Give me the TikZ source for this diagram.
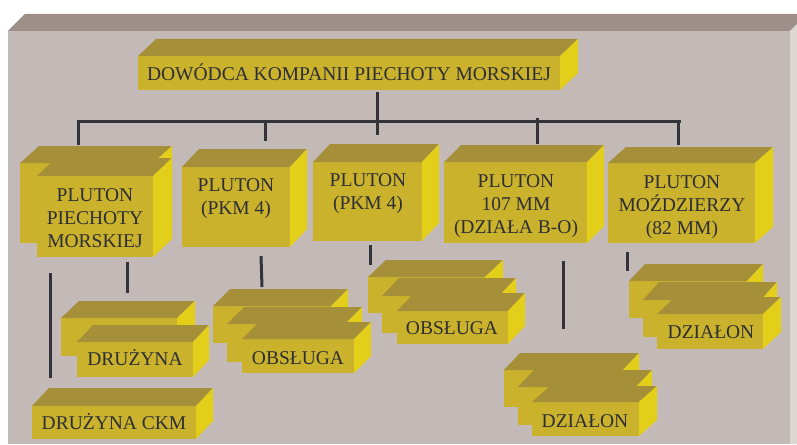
\documentclass[tikz,border=0pt]{standalone}
\usepackage{fontspec}
\setmainfont{Liberation Serif}
\definecolor{slabfront}{RGB}{195,186,184}
\definecolor{slabtop}{RGB}{158,143,139}
\definecolor{slabside}{RGB}{220,214,211}
\definecolor{boxfront}{RGB}{202,178,44}
\definecolor{boxtop}{RGB}{165,143,56}
\definecolor{boxside}{RGB}{227,207,26}
\definecolor{linec}{RGB}{51,51,57}
\definecolor{textc}{RGB}{46,46,53}
\tikzset{
  face/.style={fill=boxfront, draw=none, inner sep=0pt, outer sep=0pt, anchor=north west},
  topc/.style={fill=boxtop},
  sidec/.style={fill=boxside},
  lbl/.style={text=textc, inner sep=0pt, outer sep=0pt, align=center, font=\fontsize{19.5}{23}\selectfont},
  conn/.style={draw=linec, line width=3pt}
}
% name, x, y, w, h, dx, dy
\newcommand\cubo[7]{%
  \node[face, minimum width=#4pt, minimum height=#5pt] (#1) at (#2,#3) {};
  \fill[topc] (#1.north west) -- ++(#6,-#7) -- ([shift={(#6,-#7)}]#1.north east) -- (#1.north east) -- cycle;
  \fill[sidec] (#1.north east) -- ++(#6,-#7) -- ([shift={(#6,-#7)}]#1.south east) -- (#1.south east) -- cycle;
}
\begin{document}
\begin{tikzpicture}[x=1pt,y=-1pt]
\useasboundingbox (0,0) rectangle (797,444);
\fill[white] (0,0) rectangle (797,444);
% slab
\fill[slabfront] (8,31) rectangle (790,444);
\fill[slabtop] (8,31) -- (25,14) -- (797,14) -- (797,24) -- (790,31) -- cycle;
\fill[slabside] (790,31) -- (797,24) -- (797,444) -- (790,444) -- cycle;

% title
\cubo{title}{138}{56}{422}{34}{18}{17}
\node[lbl, anchor=base] (titlet) at (349,80) {DOWÓDCA KOMPANII PIECHOTY MORSKIEJ};

% level 2
\cubo{a0}{20}{163}{133}{80}{19}{17}
\cubo{a}{37}{176}{116}{81}{19}{18}
\node[lbl, anchor=north] (at) at (95,188.5) {PLUTON\\PIECHOTY\\MORSKIEJ};
\cubo{b}{182}{167}{108}{80}{17}{18}
\node[lbl, anchor=north] (bt) at (236,178.5) {PLUTON\\(PKM 4)};
\cubo{c}{313}{162}{109}{79}{17}{18}
\node[lbl, anchor=north] (ct) at (368,173.5) {PLUTON\\(PKM 4)};
\cubo{d}{444}{162}{143}{81}{17}{17}
\node[lbl, anchor=north] (dt) at (516,174.5) {PLUTON\\107 MM\\(DZIAŁA B-O)};
\cubo{e}{608}{163}{147}{80}{18}{16}
\node[lbl, anchor=north] (et) at (682,175.5) {PLUTON\\MOŹDZIERZY\\(82 MM)};

% level 3
\cubo{f0}{61}{318}{116}{38}{18}{17}
\cubo{f}{77}{342}{116}{35}{16}{17}
\node[lbl, anchor=base] (ft) at (135,365.5) {DRUŻYNA};
\cubo{g}{32}{406}{164}{33}{17}{18}
\node[lbl, anchor=base] (gt) at (114,429.5) {DRUŻYNA CKM};

\cubo{h1}{213}{306}{118}{37}{17}{17}
\cubo{h2}{227}{324}{118}{38}{17}{17}
\cubo{h}{242}{339}{112}{34}{17}{17}
\node[lbl, anchor=base] (ht) at (298,364.5) {OBSŁUGA};

\cubo{i1}{368}{277}{117}{36}{18}{17}
\cubo{i2}{382}{296}{117}{37}{17}{18}
\cubo{i}{397}{311}{111}{33}{17}{18}
\node[lbl, anchor=base] (it) at (452,334.5) {OBSŁUGA};

\cubo{j1}{504}{370}{119}{37}{16}{17}
\cubo{j2}{518}{387}{118}{38}{16}{17}
\cubo{j}{532}{402}{107}{34}{18}{16}
\node[lbl, anchor=base] (jt) at (585,427.5) {DZIAŁON};

\cubo{k1}{629}{281}{118}{37}{16}{17}
\cubo{k2}{643}{300}{118}{37}{16}{18}
\cubo{k}{657}{314}{106}{35}{18}{17}
\node[lbl, anchor=base] (kt) at (711,338.5) {DZIAŁON};

% connectors level 1
\coordinate (j0) at (377,135);
\coordinate (barl) at (78,121);
\coordinate (barr) at (681,121);
\coordinate (ta) at (78,145);
\coordinate (tb0) at (265,121);
\coordinate (tb) at (265,141);
\coordinate (td0) at (537,118);
\coordinate (td) at (537,144);
\coordinate (te0) at (678,121);
\coordinate (te) at (678,145);
\draw[conn] ([yshift=-1.5]title.south -| j0) -- (j0);
\draw[conn] (ta) -- (barl) -- (barr);
\draw[conn] (tb0) -- (tb);
\draw[conn] (td0) -- (td);
\draw[conn] (te0) -- (te);

% connectors level 2 -> 3
\coordinate (s1a) at (50,273);  \coordinate (s1b) at (50,378);
\coordinate (s2a) at (127,262); \coordinate (s2b) at (127,293);
\coordinate (s3a) at (261,256); \coordinate (s3b) at (262,287);
\coordinate (s4a) at (370,245); \coordinate (s4b) at (370,265);
\coordinate (s5a) at (563,261); \coordinate (s5b) at (563,329);
\coordinate (s6a) at (627,252); \coordinate (s6b) at (627,271);
\draw[conn] (s1a) -- (s1b);
\draw[conn] (s2a) -- (s2b);
\draw[conn] (s3a) -- (s3b);
\draw[conn] (s4a) -- (s4b);
\draw[conn] (s5a) -- (s5b);
\draw[conn] (s6a) -- (s6b);
\end{tikzpicture}
\end{document}
